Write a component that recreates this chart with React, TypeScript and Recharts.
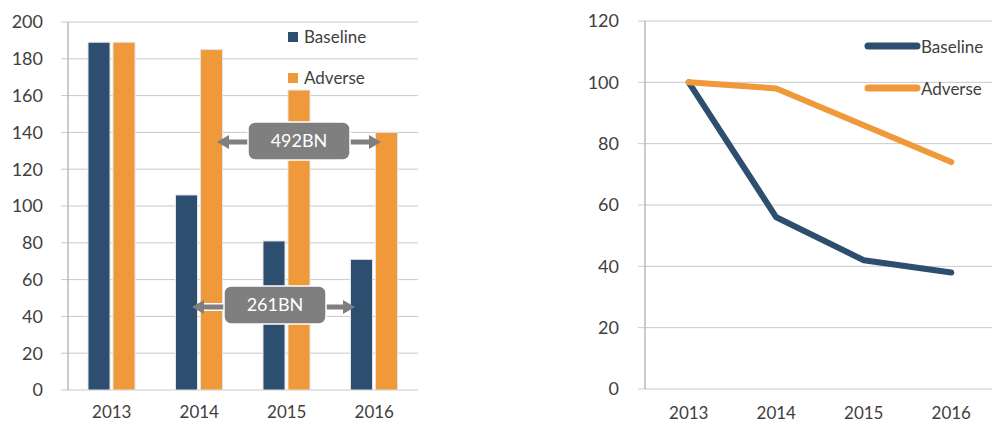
import React from 'react';
import {
  BarChart,
  Bar,
  LineChart,
  Line,
  XAxis,
  YAxis,
  CartesianGrid,
  Legend,
} from 'recharts';

const years = ['2013', '2014', '2015', '2016'];
const seriesNames = ['Baseline', 'Adverse'];
const baselineBars = [189, 106, 81, 71];
const adverseBars = [189, 185, 163, 140];
const baselineIndex = [100, 56, 42, 38];
const adverseIndex = [100, 98, 86, 74];
const barTicks = [0, 20, 40, 60, 80, 100, 120, 140, 160, 180, 200];
const lineTicks = [0, 20, 40, 60, 80, 100, 120];
const boundaryTicks = [0, 1, 2, 3, 4];

const NAVY = '#2d4e6e';
const ORANGE = '#ef993a';
const TEXT = '#404040';
const GRID = '#c9c9c9';
const FONT = 'Lato, "Open Sans", sans-serif';

const barData = years.map((year, i) => ({
  year,
  Baseline: baselineBars[i],
  Adverse: adverseBars[i],
}));
const lineData = years.map((year, i) => ({
  year,
  Baseline: baselineIndex[i],
  Adverse: adverseIndex[i],
}));

const tickStyle = { fill: TEXT, fontSize: 17, fontFamily: FONT };

const ordered = (payload: any[] = []) =>
  seriesNames.map((n) => payload.find((p) => p.value === n)).filter(Boolean);

function SquareLegend({ payload }: any) {
  return (
    <div>
      {ordered(payload).map((p: any) => (
        <div key={p.value} style={{ display: 'flex', alignItems: 'center', height: 41 }}>
          <div style={{ width: 10, height: 10, background: p.color, marginRight: 6 }} />
          <span style={{ fontFamily: FONT, fontSize: 17, color: TEXT }}>{p.value}</span>
        </div>
      ))}
    </div>
  );
}

function LineLegend({ payload }: any) {
  return (
    <div>
      {ordered(payload).map((p: any) => (
        <div key={p.value} style={{ display: 'flex', alignItems: 'center', height: 42 }}>
          <svg width={57} height={10} style={{ display: 'block' }}>
            <line x1={4} y1={5} x2={53} y2={5} stroke={p.color} strokeWidth={7} strokeLinecap="round" />
          </svg>
          <span style={{ fontFamily: FONT, fontSize: 17, color: TEXT }}>{p.value}</span>
        </div>
      ))}
    </div>
  );
}

function Arrow({ x1, x2, y }: { x1: number; x2: number; y: number }) {
  const head = 12;
  return (
    <g>
      <line x1={x1 + head} y1={y} x2={x2 - head} y2={y} stroke="#fff" strokeWidth={8} />
      <line x1={x1 + head} y1={y} x2={x2 - head} y2={y} stroke="#7f7f7f" strokeWidth={5} />
      <polygon points={`${x1},${y} ${x1 + head},${y - 7} ${x1 + head},${y + 7}`} fill="#7f7f7f" />
      <polygon points={`${x2},${y} ${x2 - head},${y - 7} ${x2 - head},${y + 7}`} fill="#7f7f7f" />
    </g>
  );
}

function Callout({ x, y, w, h, text }: { x: number; y: number; w: number; h: number; text: string }) {
  return (
    <g>
      <rect x={x} y={y} width={w} height={h} rx={7} fill="#7f7f7f" stroke="#fff" strokeWidth={1.5} />
      <text
        x={x + w / 2}
        y={y + h / 2 + 1}
        textAnchor="middle"
        dominantBaseline="middle"
        fill="#fff"
        fontFamily={FONT}
        fontSize={18}
      >
        {text}
      </text>
    </g>
  );
}

const blank = () => '';

export default function App() {
  return (
    <div style={{ position: 'absolute', left: 0, top: 0, width: 992, height: 425, overflow: 'hidden', background: '#fff' }}>
      {/* Left: stock volume, bars */}
      <div style={{ position: 'absolute', left: 0, top: 0 }}>
        <BarChart width={430} height={425} data={barData} margin={{ top: 22, right: 12, left: 0, bottom: 0 }} barGap={3}>
          <CartesianGrid vertical={false} stroke={GRID} />
          <XAxis
            xAxisId="edge"
            type="number"
            domain={[0, 4]}
            ticks={boundaryTicks}
            allowDataOverflow
            height={0}
            tickSize={7}
            tickFormatter={blank}
            stroke="#999"
          />
          <XAxis
            dataKey="year"
            height={35}
            tickLine={false}
            axisLine={false}
            tick={tickStyle}
            tickMargin={10}
          />
          <YAxis
            domain={[0, 200]}
            ticks={barTicks}
            width={68}
            tickSize={7}
            tickMargin={18}
            stroke="#999"
            tickLine={{ stroke: GRID }}
            tick={{ ...tickStyle, fontSize: 18 }}
          />
          <Legend
            content={<SquareLegend />}
            layout="vertical"
            align="center"
            verticalAlign="middle"
            wrapperStyle={{ position: 'absolute', left: 288, top: 16, width: 120 }}
          />
          <Bar dataKey="Baseline" fill={NAVY} barSize={22} stroke="#e4e4e4" strokeWidth={1} isAnimationActive={false} />
          <Bar dataKey="Adverse" fill={ORANGE} barSize={22} stroke="#e4e4e4" strokeWidth={1} isAnimationActive={false} />
        </BarChart>
        <svg width={430} height={425} style={{ position: 'absolute', left: 0, top: 0, pointerEvents: 'none' }}>
          <Arrow x1={217} x2={381} y={142} />
          <Callout x={248} y={122} w={102} h={38} text="492BN" />
          <Arrow x1={192} x2={355} y={307} />
          <Callout x={224} y={286} w={102} h={38} text="261BN" />
        </svg>
      </div>

      {/* Right: index, lines */}
      <div style={{ position: 'absolute', left: 577, top: 0 }}>
        <LineChart width={430} height={425} data={lineData} margin={{ top: 21, right: 12, left: 0, bottom: 0 }}>
          <CartesianGrid vertical={false} stroke={GRID} />
          <XAxis
            xAxisId="edge"
            type="number"
            domain={[0, 4]}
            ticks={boundaryTicks}
            allowDataOverflow
            height={0}
            tickSize={7}
            tickFormatter={blank}
            stroke="#999"
          />
          <XAxis
            dataKey="year"
            scale="band"
            height={36}
            tickLine={false}
            axisLine={false}
            tick={tickStyle}
            tickMargin={12}
          />
          <YAxis
            domain={[0, 120]}
            ticks={lineTicks}
            width={68}
            tickSize={7}
            tickMargin={19}
            stroke="#999"
            tickLine={{ stroke: GRID }}
            tick={{ ...tickStyle, fontSize: 18 }}
          />
          <Legend
            content={<LineLegend />}
            layout="vertical"
            align="center"
            verticalAlign="middle"
            wrapperStyle={{ position: 'absolute', left: 287, top: 25, width: 150 }}
          />
          <Line
            type="linear"
            dataKey="Baseline"
            stroke={NAVY}
            strokeWidth={6}
            strokeLinecap="round"
            strokeLinejoin="round"
            dot={false}
            isAnimationActive={false}
          />
          <Line
            type="linear"
            dataKey="Adverse"
            stroke={ORANGE}
            strokeWidth={6}
            strokeLinecap="round"
            strokeLinejoin="round"
            dot={false}
            isAnimationActive={false}
          />
        </LineChart>
      </div>
    </div>
  );
}
